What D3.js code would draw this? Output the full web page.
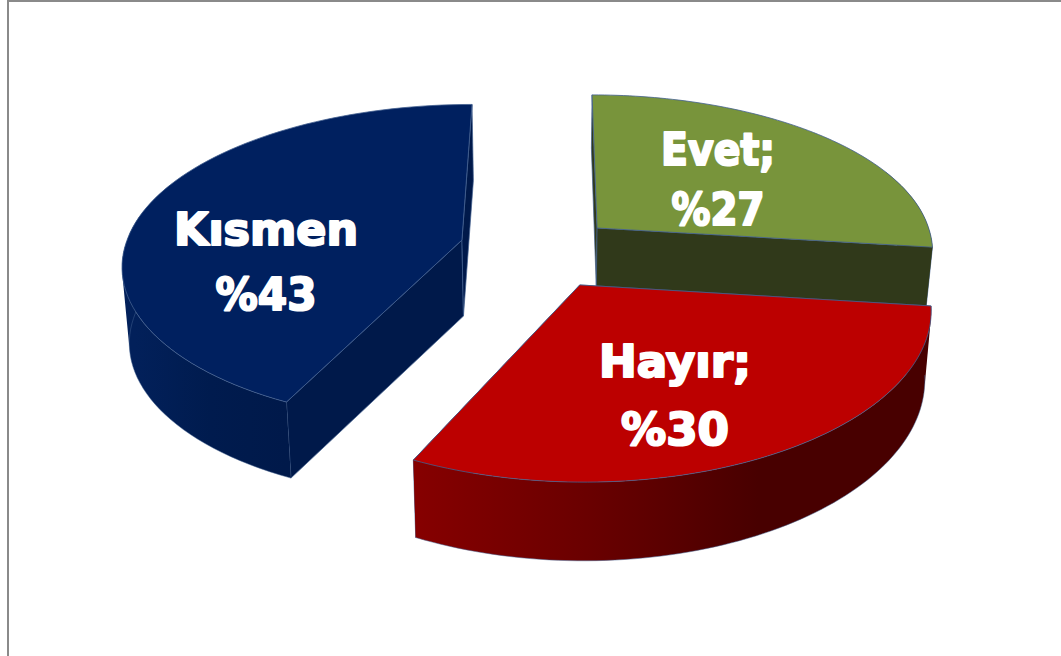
<!DOCTYPE html>
<html><head><meta charset="utf-8">
<script src="https://cdn.jsdelivr.net/npm/d3@7"></script>
<style>html,body{margin:0;padding:0;background:#fff;overflow:hidden}svg{display:block}
text{font-family:"DejaVu Sans",sans-serif;font-weight:700;fill:#fff;stroke:#fff;stroke-width:2.2px;text-anchor:middle;paint-order:stroke;stroke-linejoin:round}</style>
</head><body>
<script>
const categories = ["Evet", "Hayır", "Kısmen"];
const seriesValues = [27, 30, 43];
const nameLabels = ["Evet;", "Hayır;", "Kısmen"];
const valueLabels = ["%27", "%30", "%43"];

const W = 1061, H = 656;
const styles = [
  {top:"#78943b", side:"#30391a", wall:["#30391a","#30391a"], rim:false},
  {top:"#bc0000", side:"#7a0000", wall:["#860000","#6a0000","#480000","#480000"], rim:true},
  {top:"#00205f", side:"#00194a", wall:["#02205a","#001b4e","#00194a"], rim:true}
];
// explosion of each slice on the ground plane (u right, v towards viewer), radius = 1
const explode = [{u:.136,v:-.10},{u:.08,v:.263},{u:-.269,v:-.02}];
// wall height in px at the slice apex, and how strongly it grows towards the viewer
const extrude = [{d:60,p:1},{d:68,p:1},{d:76,p:0}];
// text placement per slice
const labelPos = [
  {x:718,y1:165,y2:225,l1:114,l2:93},
  {x:675,y1:377,y2:445,l1:152,l2:108},
  {x:266,y1:245,y2:310,l1:184,l2:101}
];

// perspective camera
const D = 7.9, vanishX = 552, vanishY = -970, scaleX = 2652, scaleY = 9584, bottomShrink = .983;
const project = (u, v, bottomPx) => {
  const w = D - v;
  let x = vanishX + scaleX * u / w, y = vanishY + scaleY / w;
  if (bottomPx !== undefined) { y += bottomPx(w); x = vanishX + (x - vanishX) * bottomShrink; }
  return [x, y];
};
const line = d3.line();
const svg = d3.select("body").append("svg").attr("width", W).attr("height", H);
const defs = svg.append("defs");

// frame
svg.append("rect").attr("width", W).attr("height", H).attr("fill", "#fff");
svg.append("path").attr("d", line([[8, H], [8, 1], [W, 1]])).attr("fill", "none").attr("stroke", "#8a8a8a").attr("stroke-width", 2);

const arcs = d3.pie().sort(null)(seriesValues);
const stroke = "#42608f";

// painter's order: back slices first
[0, 2, 1].forEach(i => {
  const a = arcs[i], e = explode[i], st = styles[i], ex = extrude[i];
  const w0 = D - e.v;
  const drop = w => ex.d * Math.pow(w0 / w, ex.p);
  const P = (ang, r, b) => {
    const c = Math.cos(ang), front = c < 0 ? -c : 0;
    return project(e.u + r * Math.sin(ang) * (1 + .012 * front), e.v - r * c * (1 + .037 * front), b ? drop : undefined);
  };
  const n = 80;
  const angs = d3.range(n + 1).map(k => a.startAngle + (a.endAngle - a.startAngle) * k / n);
  const g = svg.append("g").attr("class", "slice").attr("data-name", categories[i]);

  // radial walls
  [a.startAngle, a.endAngle].forEach(t => {
    const q = [P(t, 0, false), P(t, 1, false), P(t, 1, true), P(t, 0, true)];
    g.append("path").attr("d", line(q) + "Z").attr("fill", st.side).attr("stroke", stroke).attr("stroke-width", .7);
  });

  // curved outer wall: one path of equally wound quads, so the fold at the silhouette stays filled
  const gid = "wall" + i;
  const visible = angs.filter(t => Math.cos(t) < .4);
  const front = angs.filter(t => Math.cos(t) < .13);
  const x0 = P(front[0], 1, false)[0], x1 = P(front[front.length - 1], 1, false)[0];
  const grad = defs.append("linearGradient").attr("id", gid).attr("gradientUnits", "userSpaceOnUse")
    .attr("x1", Math.min(x0, x1)).attr("x2", Math.max(x0, x1)).attr("y1", 0).attr("y2", 0);
  st.wall.forEach((c, k) => grad.append("stop").attr("offset", k / (st.wall.length - 1)).attr("stop-color", c));
  const wallPath = d3.pairs(visible).map(([s, t]) => {
    const q = [P(s, 1, false), P(t, 1, false), P(t, 1, true), P(s, 1, true)];
    if (d3.polygonArea(q) < 0) q.reverse();
    return line(q) + "Z";
  }).join("");
  g.append("path").attr("d", wallPath).attr("fill", `url(#${gid})`);
  if (st.rim) g.append("path").attr("d", line(front.map(t => P(t, 1, true)))).attr("fill", "none").attr("stroke", stroke).attr("stroke-width", .5);

  // top face
  const top = [P(0, 0, false)].concat(angs.map(t => P(t, 1, false)));
  g.append("path").attr("d", line(top) + "Z").attr("fill", st.top).attr("stroke", stroke).attr("stroke-width", .8).attr("stroke-linejoin", "round");
});

// labels
arcs.forEach((a, i) => {
  const p = labelPos[i];
  svg.append("text").attr("x", p.x).attr("y", p.y1).attr("font-size", 45)
    .attr("textLength", p.l1).attr("lengthAdjust", "spacingAndGlyphs").text(nameLabels[i]);
  svg.append("text").attr("x", p.x).attr("y", p.y2).attr("font-size", 45)
    .attr("textLength", p.l2).attr("lengthAdjust", "spacingAndGlyphs").text(valueLabels[i]);
});
</script>
</body></html>
